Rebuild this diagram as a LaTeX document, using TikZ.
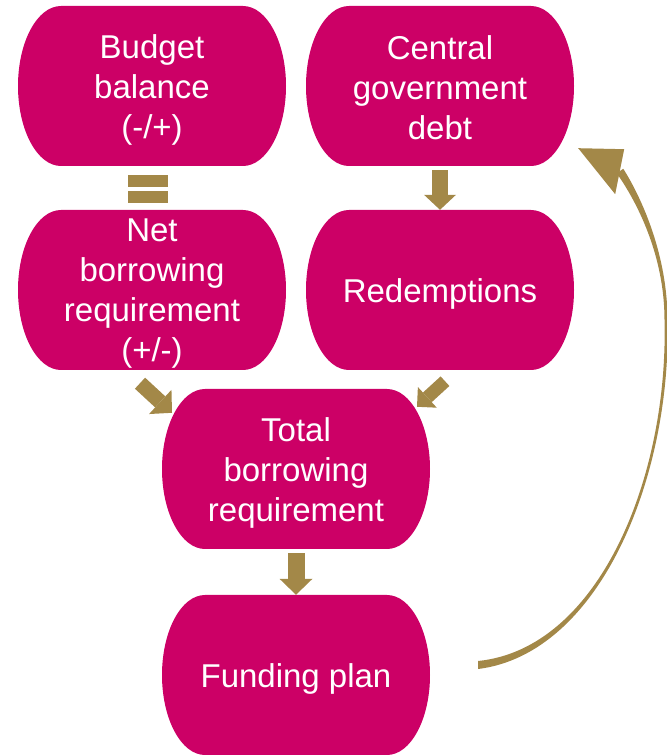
\documentclass[tikz,border=0pt]{standalone}
\usepackage{fontspec}
\setmainfont{Liberation Sans}
\usetikzlibrary{arrows.meta}
\definecolor{boxc}{RGB}{204,0,102}
\definecolor{gold}{RGB}{163,136,72}
\begin{document}
\begin{tikzpicture}[x=1pt,y=1pt,
  term/.style={rectangle, minimum width=268pt, minimum height=160pt, inner sep=0pt,
    path picture={\fill[boxc]
      ([shift={(-91pt,80pt)}]path picture bounding box.center) --
      ([shift={(91pt,80pt)}]path picture bounding box.center)
      arc[start angle=90,end angle=-90,x radius=43pt,y radius=80pt] --
      ([shift={(-91pt,-80pt)}]path picture bounding box.center)
      arc[start angle=270,end angle=90,x radius=43pt,y radius=80pt] -- cycle;}},
  tlabel/.style={align=center, text=white, inner sep=0pt, yshift=-4pt,
    font=\fontsize{33}{40}\selectfont},
  blockarrow/.style n args={3}{draw=gold, line width=#1, line cap=butt,
    -{Triangle[width=#2,length=#3,line width=0pt]}},
]
\useasboundingbox (0,0) rectangle (667,756);
\node[term, label={[tlabel]center:{Budget\\balance\\(-/+)}}] (b1) at (152,670) {};
\node[term, label={[tlabel, yshift=2pt]center:{Central\\government\\debt}}] (b2) at (440,670) {};
\node[term, label={[tlabel]center:{Net\\borrowing\\requirement\\(+/-)}}] (b3) at (152,466) {};
\node[term, label={[tlabel]center:{Redemptions}}] (b4) at (440,466) {};
\node[term, label={[tlabel]center:{Total\\borrowing\\requirement}}] (b5) at (296,287) {};
\node[term, label={[tlabel]center:{Funding plan}}] (b6) at (296,81) {};

% equals sign between b1 and b3
\fill[gold] ([shift={(-24,-9)}]b1.south) rectangle ([shift={(16,-21)}]b1.south);
\fill[gold] ([shift={(-24,-25)}]b1.south) rectangle ([shift={(16,-37)}]b1.south);

% straight block arrows
\draw[blockarrow={16pt}{32pt}{15pt}] ([yshift=-4pt]b2.south) -- (b4.north);
\draw[blockarrow={17pt}{33pt}{16pt}] ([yshift=-4pt]b5.south) -- (b6.north);

\coordinate (l1) at ([shift={(-12,-13)}]b3.south);
\coordinate (l2) at ([shift={(-124,-24)}]b5.north);
\draw[blockarrow={15pt}{33pt}{16pt}] (l1) -- (l2);

\coordinate (r1) at ([shift={(5,-11)}]b4.south);
\coordinate (r2) at ([shift={(121,-18)}]b5.north);
\draw[blockarrow={13pt}{28pt}{14pt}] (r1) -- (r2);

% feedback arrow (tapered curved shaft + head)
\coordinate (f1) at ([shift={(48,10)}]b6.east);
\coordinate (f2) at ([shift={(4,18)}]b2.south east);
\fill[gold] ([yshift=4pt]f1) .. controls (599.7,107.5) and (668.5,280) .. (664.5,436)
  .. controls (664.5,500) and (637.5,553.3) .. (616.7,582.8)
  -- (623.3,587.2) .. controls (642.5,556.7) and (667.5,500) .. (667.5,436)
  .. controls (671.5,280) and (600.3,102.5) .. ([yshift=-4pt]f1) -- cycle;
\fill[gold] (f2) -- ([shift={(46,-1)}]f2) -- ([shift={(37,-46)}]f2) -- cycle;
\end{tikzpicture}
\end{document}
